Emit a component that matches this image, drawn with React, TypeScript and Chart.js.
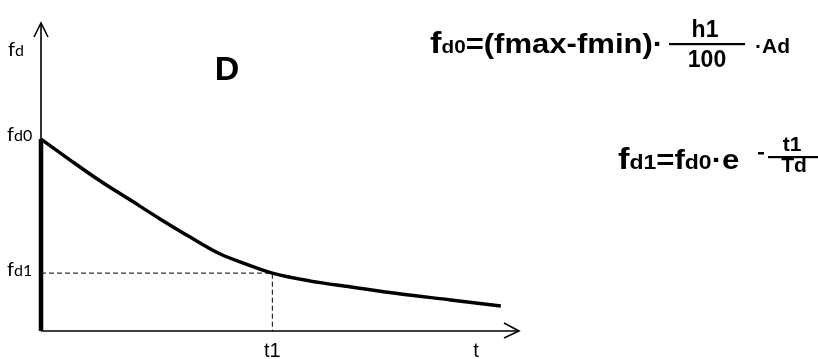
import React, { useEffect, useRef } from "react";
import { Chart, registerables } from "chart.js";

Chart.register(...registerables);

// Decay curve f_d(t) (t and f in 0..100 units)
const curveT = [0, 6.1, 12.4, 18.7, 24.9, 31.2, 37.5, 42.8, 48.4, 56.4, 64.8, 75.3, 85.7, 96.2];
const curveF = [62.3, 55.5, 48.7, 42.5, 36.4, 30.5, 25.0, 21.8, 18.8, 16.2, 14.3, 12.0, 10.1, 8.1];
const fd0Value = 62.3;
const fd1Value = 18.8;
const t1Value = 48.4;
const axisMax = [100, 100];
const yLabels = ["fd", "fd0", "fd1"];
const xLabels = ["t1", "t"];
const xLabelT = 91;
const yLabelF = 91;

const SANS = "'Liberation Sans', Arial, sans-serif";
const LABEL = "Lato, 'Open Sans', sans-serif";

type Run = [string, string];

function drawRuns(ctx: CanvasRenderingContext2D, runs: Run[], x: number, y: number, sx = 1) {
  ctx.save();
  ctx.translate(x, y);
  ctx.scale(sx, 1);
  let cx = 0;
  ctx.textBaseline = "alphabetic";
  ctx.textAlign = "left";
  for (const [txt, font] of runs) {
    ctx.font = font;
    ctx.fillText(txt, cx, 0);
    cx += ctx.measureText(txt).width;
  }
  ctx.restore();
  return x + cx * sx;
}

function subLabel(label: string): Run[] {
  return [
    [label.slice(0, 1), `20px ${LABEL}`],
    [label.slice(1), `16px ${LABEL}`],
  ];
}

const decorPlugin = {
  id: "decor",
  afterDatasetsDraw(chart: any) {
    const ctx: CanvasRenderingContext2D = chart.ctx;
    const xs = chart.scales.x;
    const ys = chart.scales.y;
    const x0 = xs.getPixelForValue(0);
    const y0 = ys.getPixelForValue(0);
    const xTip = xs.getPixelForValue(axisMax[0]);
    const yTip = ys.getPixelForValue(axisMax[1]);
    ctx.save();
    ctx.strokeStyle = "#000";
    ctx.fillStyle = "#000";
    ctx.lineWidth = 1.6;
    ctx.lineCap = "butt";
    // axes
    ctx.beginPath();
    ctx.moveTo(x0, y0);
    ctx.lineTo(x0, yTip);
    ctx.moveTo(x0, y0);
    ctx.lineTo(xTip, y0);
    ctx.stroke();
    // arrow heads
    ctx.beginPath();
    ctx.moveTo(x0 - 7, yTip + 14);
    ctx.lineTo(x0, yTip);
    ctx.lineTo(x0 + 7, yTip + 14);
    ctx.moveTo(xTip - 15, y0 - 8);
    ctx.lineTo(xTip, y0);
    ctx.lineTo(xTip - 15, y0 + 7);
    ctx.stroke();

    // y labels
    drawRuns(ctx, subLabel(yLabels[0]), 8, ys.getPixelForValue(yLabelF) + 5);
    drawRuns(ctx, subLabel(yLabels[1]), 7, ys.getPixelForValue(fd0Value) + 2);
    drawRuns(ctx, subLabel(yLabels[2]), 7, ys.getPixelForValue(fd1Value) + 3);

    // x labels
    ctx.font = `20px ${SANS}`;
    ctx.textAlign = "center";
    ctx.textBaseline = "alphabetic";
    ctx.fillText(xLabels[0], xs.getPixelForValue(t1Value), 357);
    ctx.fillText(xLabels[1], xs.getPixelForValue(xLabelT), 357);

    // title letter
    ctx.font = `bold 34px ${SANS}`;
    ctx.fillText("D", 227, 80);

    // formula 1
    const big = `bold 30px ${SANS}`;
    const mid = `bold 27px ${SANS}`;
    const small = `bold 18px ${SANS}`;
    const frac = `bold 23px ${SANS}`;
    drawRuns(ctx, [["f", big], ["d0", small], ["=(fmax-fmin)·", mid]], 430, 53, 1.15);
    ctx.font = frac;
    ctx.textAlign = "center";
    ctx.fillText("h1", 705, 37);
    ctx.fillText("100", 707, 67);
    ctx.fillRect(669, 43, 76, 2.2);
    drawRuns(ctx, [["·Ad", `bold 21px ${SANS}`]], 755, 53);

    // formula 2
    const sub2 = `bold 20px ${SANS}`;
    drawRuns(ctx, [["f", big], ["d1", sub2], ["=f", mid], ["d0", sub2], ["·e", mid]], 618, 169, 1.15);
    ctx.fillRect(758, 152, 6, 2.5);
    ctx.font = `bold 21px ${SANS}`;
    ctx.textAlign = "center";
    ctx.fillText("t1", 792, 151);
    ctx.fillText("Td", 794, 172);
    ctx.fillRect(768, 156, 50, 2.2);
    ctx.restore();
  },
};

export default function App() {
  const ref = useRef<HTMLCanvasElement | null>(null);
  useEffect(() => {
    if (!ref.current) return;
    const curve = curveT.map((t, i) => ({ x: t, y: curveF[i] }));
    const chart = new Chart(ref.current, {
      type: "scatter",
      data: {
        datasets: [
          {
            data: [
              { x: 0, y: fd1Value },
              { x: t1Value, y: fd1Value },
              { x: t1Value, y: 0 },
            ],
            showLine: true,
            borderColor: "#000",
            borderWidth: 1,
            borderDash: [5, 3],
            pointRadius: 0,
          },
          {
            data: [
              { x: 0, y: 0 },
              { x: 0, y: fd0Value },
            ],
            showLine: true,
            borderColor: "#000",
            borderWidth: 4.5,
            pointRadius: 0,
          },
          {
            data: curve,
            showLine: true,
            borderColor: "#000",
            borderWidth: 3.5,
            pointRadius: 0,
            cubicInterpolationMode: "monotone",
          },
        ],
      },
      options: {
        animation: false,
        responsive: false,
        events: [],
        layout: { padding: { left: 41, right: 299, top: 23, bottom: 28 } },
        plugins: { legend: { display: false }, tooltip: { enabled: false } },
        elements: { line: { borderCapStyle: "butt" } },
        scales: {
          x: { type: "linear", min: 0, max: axisMax[0], display: false },
          y: { type: "linear", min: 0, max: axisMax[1], display: false },
        },
        clip: false as any,
      } as any,
      plugins: [decorPlugin],
    });
    return () => chart.destroy();
  }, []);
  return (
    <div style={{ position: "fixed", left: 0, top: 0, width: 818, height: 359, background: "#fff" }}>
      <canvas ref={ref} width={818} height={359} style={{ width: 818, height: 359 }} />
    </div>
  );
}
